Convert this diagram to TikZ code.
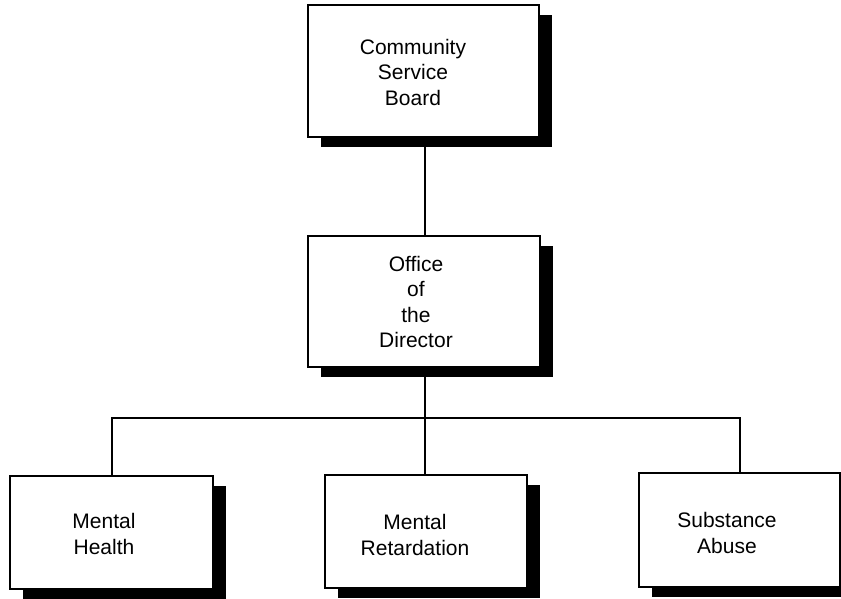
\documentclass[tikz,border=0pt]{standalone}
\usepackage{fontspec}
\setmainfont{Liberation Sans}
\usetikzlibrary{shadows,backgrounds}

\tikzset{
  orgbox/.style={draw=black, line width=2pt, fill=white, rectangle,
    inner sep=0pt, outer sep=0pt,
    drop shadow={shadow xshift=13pt, shadow yshift=-10pt, fill=black, opacity=1}},
  orgtext/.style={align=center, inner sep=0pt,
    font=\fontsize{21}{25.5}\selectfont},
  link/.style={draw=black, line width=2pt}
}

\begin{document}
\begin{tikzpicture}[x=1pt, y=-1pt]
  \useasboundingbox (0,0) rectangle (841,598);

  % boxes
  \node[orgbox, minimum width=231pt, minimum height=132pt] (csb) at (423.5,71) {};
  \node[orgbox, minimum width=232pt, minimum height=131pt] (dir) at (424,301.5) {};
  \node[orgbox, minimum width=203pt, minimum height=113pt] (mh) at (111.5,532.5) {};
  \node[orgbox, minimum width=202pt, minimum height=113pt] (mr) at (426,531.5) {};
  \node[orgbox, minimum width=201pt, minimum height=114pt] (sa) at (739.5,530) {};

  % box labels
  \node[orgtext] (csbt) at (413,72) {Community\\Service\\Board};
  \node[orgtext] (dirt) at (416,302) {Office\\of\\the\\Director};
  \node[orgtext] (mht) at (104,534) {Mental\\Health};
  \node[orgtext] (mrt) at (415,535) {Mental\\Retardation};
  \node[orgtext] (sat) at (727,533) {Substance\\Abuse};

  % connectors
  \coordinate (bus) at (425,418);
  \begin{pgfonlayer}{background}
    \draw[link] (csb.south -| bus) -- (dir.north -| bus);
    \draw[link] (dir.south -| bus) -- (mr.north -| bus);
    \draw[link] (mh.north) |- (bus) -| (sa.north);
  \end{pgfonlayer}
\end{tikzpicture}
\end{document}
